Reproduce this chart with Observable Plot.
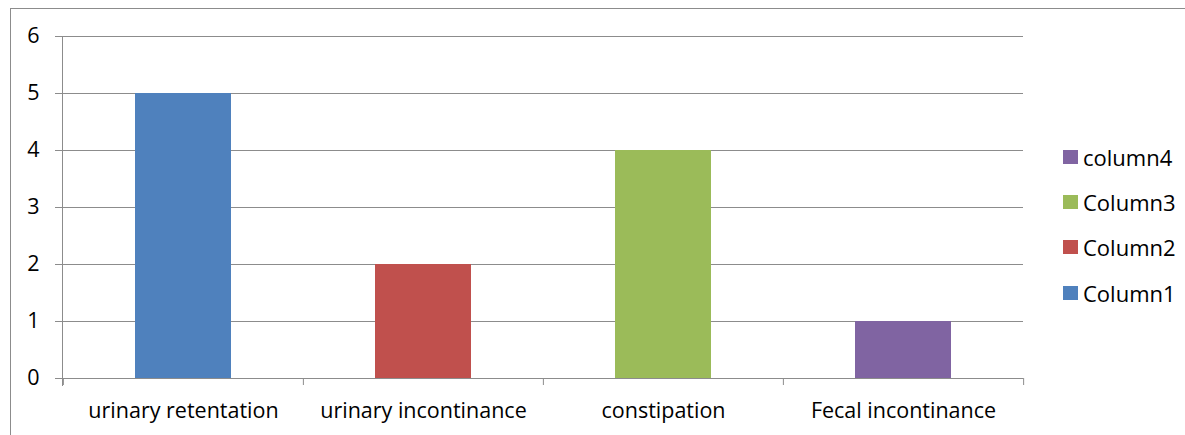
<!DOCTYPE html>
<html>
<head>
<meta charset="utf-8">
<script src="https://cdn.jsdelivr.net/npm/d3@7"></script>
<script src="https://cdn.jsdelivr.net/npm/@observablehq/plot@0.6"></script>
<style>
  html, body { margin: 0; padding: 0; background: #fff; }
  #chart { position: relative; width: 1185px; height: 435px; overflow: hidden; font-family: "Open Sans", sans-serif; }
  #chart svg { position: absolute; left: 0; top: 0; }
  .border { position: absolute; left: 10px; top: 8px; right: -5px; bottom: -5px; border-top: 1px solid #8c8c8c; border-left: 1px solid #8c8c8c; }
  .legend { position: absolute; left: 1063px; top: 134px; display: flex; flex-direction: column; }
  .legend .item { display: flex; align-items: center; height: 45.3px; font-size: 22px; color: #000; }
  .legend .sw { width: 15px; height: 14px; margin-right: 5px; flex: none; }
</style>
</head>
<body>
<div id="chart"><div class="border"></div></div>
<script>
// Categories along the x axis
const categories = ["urinary retentation", "urinary incontinance", "constipation", "Fecal incontinance"];
// One series per category
const seriesNames = ["Column1", "Column2", "Column3", "column4"];
const values = [5, 2, 4, 1];
const seriesColors = ["#4F81BD", "#C0504D", "#9BBB59", "#8064A2"];
const yTicks = [0, 1, 2, 3, 4, 5, 6];

const rows = categories.map((c, i) => ({category: c, series: seriesNames[i], value: values[i]}));

const W = 1185, H = 435;
const mL = 62, mR = 162, mT = 36, mB = 57;
const step = (W - mL - mR) / categories.length;
const lineColor = "#8c8c8c";

const chart = Plot.plot({
  width: W,
  height: H,
  marginLeft: mL,
  marginRight: mR,
  marginTop: mT,
  marginBottom: mB,
  style: {fontFamily: "Open Sans", fontSize: "21.5px", color: "#000", background: "transparent"},
  x: {domain: categories, paddingInner: 0.6, paddingOuter: 0.3, label: null},
  y: {domain: [0, 6], label: null},
  color: {domain: seriesNames, range: seriesColors},
  marks: [
    Plot.gridY(yTicks, {stroke: lineColor, strokeOpacity: 1}),
    Plot.barY(rows, {x: "category", y: "value", fill: "series"}),
    Plot.ruleY([0], {stroke: lineColor}),
    Plot.axisY(yTicks, {tickSize: 7, tickPadding: 16, tickFormat: "d", stroke: lineColor, strokeOpacity: 1, fill: "#000", fontSize: 21.5, label: null}),
    Plot.axisX({tickSize: 0, tickPadding: 24, fill: "#000", fontSize: 21.5, label: null}),
    // vertical axis line, running a little below the baseline
    Plot.frame({anchor: "left", stroke: lineColor, insetBottom: -7}),
    // tick marks on the category boundaries
    Plot.ruleX(categories, {x: d => d, y1: 0, y2: 0, insetBottom: -7, dx: -step / 2, stroke: lineColor}),
    Plot.ruleX(categories.slice(-1), {x: d => d, y1: 0, y2: 0, insetBottom: -7, dx: step / 2, stroke: lineColor})
  ]
});

const root = document.getElementById("chart");
root.appendChild(chart);

// Legend, listed from the last series to the first
const legend = document.createElement("div");
legend.className = "legend";
seriesNames.slice().reverse().forEach(name => {
  const item = document.createElement("div");
  item.className = "item";
  const sw = document.createElement("span");
  sw.className = "sw";
  sw.style.background = seriesColors[seriesNames.indexOf(name)];
  const label = document.createElement("span");
  label.textContent = name;
  item.appendChild(sw);
  item.appendChild(label);
  legend.appendChild(item);
});
root.appendChild(legend);
</script>
</body>
</html>
